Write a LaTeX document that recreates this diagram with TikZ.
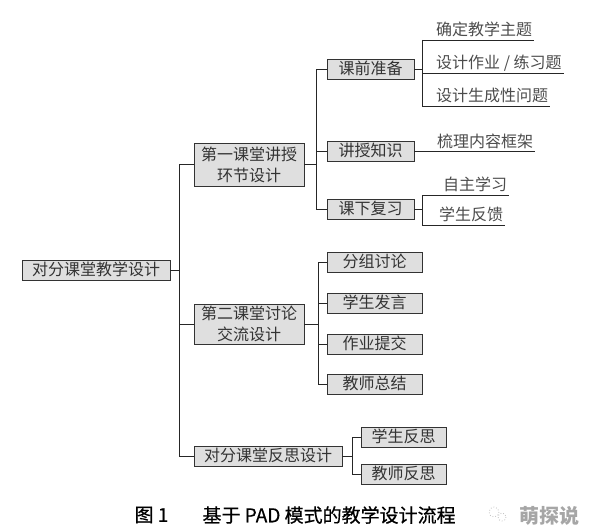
\documentclass[tikz,border=0pt]{standalone}
\usepackage{fontspec}
\setmainfont{Noto Sans CJK SC}
\newfontfamily\capfont{Noto Sans CJK SC}[FakeBold=0.5]
\usetikzlibrary{positioning}

\tikzset{
  boxbase/.style={draw=black!80, fill=gray!25, line width=0.8pt, text=black!80,
    font=\fontsize{16}{21}\selectfont, inner sep=0pt, align=center},
  box/.style={boxbase, minimum height=20pt, text height=13pt, text depth=3pt},
  twobox/.style={boxbase, minimum width=110pt},
  leaf/.style={text=black!70, font=\fontsize{16}{21}\selectfont,
    inner xsep=2pt, inner ysep=1.5pt, text height=13pt, text depth=3pt},
  link/.style={draw=black!85, line width=0.8pt},
  caption/.style={anchor=west, font=\capfont\fontsize{19}{22}\selectfont, text=black},
}

\begin{document}
\begin{tikzpicture}[x=1pt, y=-1pt]
\useasboundingbox (0,0) rectangle (594,532);

% root and first level
\node[box, minimum width=148pt] (root) at (96,270) {对分课堂教学设计};
\node[twobox, minimum height=43pt] (lecA) at (249,164.5)
    {第一课堂讲授\\环节设计};
\node[twobox, minimum height=40pt] (discB) at (249,324)
    {第二课堂讨论\\交流设计};
\node[box, minimum width=148pt] (reflC) at (268,456) {对分课堂反思设计};

% second level
\node[box, minimum width=87pt] (prep) at (370.5,69.5) {课前准备};
\node[box, minimum width=87pt] (teach) at (370.5,151) {讲授知识};
\node[box, minimum width=87pt] (review) at (370.5,209.5) {课下复习};

\node[box, minimum width=95pt] (group) at (374.5,262.5) {分组讨论};
\node[box, minimum width=95pt] (speak) at (374.5,303.5) {学生发言};
\node[box, minimum width=95pt] (submit) at (374.5,344) {作业提交};
\node[box, minimum width=95pt] (summ) at (374.5,384.5) {教师总结};

\node[box, minimum width=85pt] (stuR) at (403.5,437.5) {学生反思};
\node[box, minimum width=85pt] (teaR) at (403.5,474) {教师反思};

% underlined leaves
\node[leaf, anchor=south west] (topic) at (434,40) {确定教学主题};
\node[leaf, anchor=south west] (work) at (434,73) {设计作业 / 练习题};
\node[leaf, anchor=south west] (quest) at (434,106) {设计生成性问题};
\node[leaf, anchor=south west] (frame) at (435,152) {梳理内容框架};
\node[leaf, anchor=south west] (self) at (441,195) {自主学习};
\node[leaf, anchor=south west] (feed) at (437,225) {学生反馈};

% joints
\coordinate (j0) at (179,0);
\coordinate (j1) at (316,0);
\coordinate (j2) at (422,0);
\coordinate (j3) at (318,0);
\coordinate (j4) at (352,0);

% connectors
\draw[link] (root.east) -- (root.east -| j0);
\draw[link] (j0 |- lecA.west) -- (j0 |- reflC.west);
\foreach \n in {lecA,discB,reflC}
  \draw[link] (j0 |- \n.west) -- (\n.west);

\draw[link] (lecA.east) -- (lecA.east -| j1);
\draw[link] (j1 |- prep.west) -- (j1 |- review.west);
\foreach \n in {prep,teach,review}
  \draw[link] (j1 |- \n.west) -- (\n.west);

\draw[link] (prep.east) -- (prep.east -| j2);
\draw[link] (j2 |- topic.south) -- (j2 |- quest.south);
\foreach \n in {topic,work,quest}
  \draw[link] (j2 |- \n.south) -- (\n.south east);
\draw[link] (teach.east) -- (teach.east -| frame.south east);
\draw[link] (review.east) -- (review.east -| j2);
\draw[link] (j2 |- self.south) -- (j2 |- feed.south);
\foreach \n in {self,feed}
  \draw[link] (j2 |- \n.south) -- (\n.south east);

\draw[link] (discB.east) -- (discB.east -| j3);
\draw[link] (j3 |- group.west) -- (j3 |- summ.west);
\foreach \n in {group,speak,submit,summ}
  \draw[link] (j3 |- \n.west) -- (\n.west);

\draw[link] (reflC.east) -- (reflC.east -| j4);
\draw[link] (j4 |- stuR.west) -- (j4 |- teaR.west);
\foreach \n in {stuR,teaR}
  \draw[link] (j4 |- \n.west) -- (\n.west);

% caption
\node[caption] (fig) at (131,515) {图 1};
\node[caption] (title) at (199,515) {基于 PAD 模式的教学设计流程};

% watermark
\draw[gray!50, dotted, line width=0.8pt] (494,512) circle (5) (502,517) circle (4);
\node[anchor=west, font=\fontsize{20}{22}\selectfont\bfseries, text=gray!70]
  (mark) at (516,516) {萌探说};
\end{tikzpicture}
\end{document}
